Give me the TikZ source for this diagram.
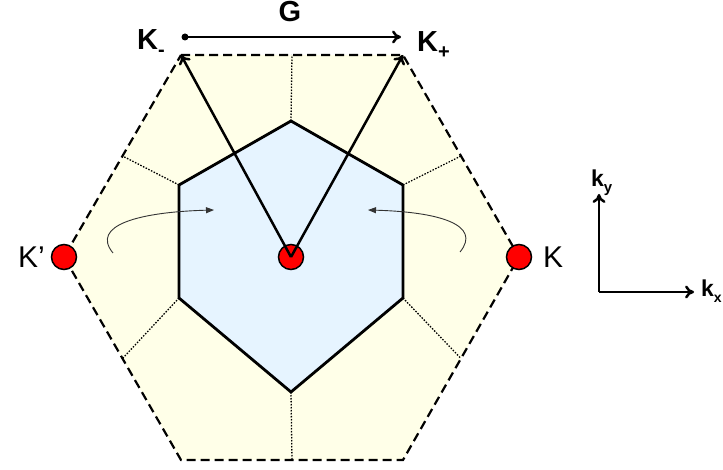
\documentclass[tikz,border=0pt]{standalone}
\usepackage{fontspec}
\setmainfont{Liberation Sans}
\usetikzlibrary{arrows.meta,calc}
\definecolor{outerfill}{HTML}{FFFFE8}
\definecolor{innerfill}{HTML}{E6F4FF}
\begin{document}
\begin{tikzpicture}[x=1pt,y=-1pt,
  lbl/.style={font=\fontsize{30}{34}\selectfont, inner sep=0pt},
  blbl/.style={font=\fontsize{29}{33}\selectfont\bfseries, inner sep=0pt},
  slbl/.style={font=\fontsize{23}{27}\selectfont\bfseries, inner sep=0pt},
  dot/.style={circle, draw=black, line width=1.5pt, fill=red, minimum size=25pt, inner sep=0pt},
  outerhex/.style={draw=black, dash pattern=on 9pt off 5pt, line width=2.2pt, fill=outerfill},
  innerhex/.style={draw=black, line width=2.8pt, fill=innerfill, line join=miter},
  sep/.style={draw=black, dash pattern=on 1.5pt off 1.5pt, line width=1.3pt},
  karrow/.style={line width=2.5pt, -{To[length=9pt,width=13pt]}},
  curvarrow/.style={line width=0.9pt, draw=black!80, -{Triangle[length=8pt,width=6pt]}},
  axis/.style={line width=2.5pt, -{To[length=9pt,width=13pt]}}]
\useasboundingbox (0,0) rectangle (723,470);
\fill[white] (0,0) rectangle (723,470);
% outer hexagon
\coordinate (OTL) at (181,55);
\coordinate (OTR) at (403,55);
\coordinate (OR) at (519,257);
\coordinate (OBR) at (403,460);
\coordinate (OBL) at (181,460);
\coordinate (OL) at (64,257);
\path[outerhex] (OTL) -- (OTR) -- (OR) -- (OBR) -- (OBL) -- (OL) -- cycle;
% inner hexagon
\coordinate (IT) at (291,121);
\coordinate (IUR) at (403,185);
\coordinate (ILR) at (403,298);
\coordinate (IB) at (291,392);
\coordinate (ILL) at (179,298);
\coordinate (IUL) at (179,185);
% separators
\path[sep] (IT) -- ($(OTL)!0.5!(OTR)$);
\path[sep] (IB) -- ($(OBL)!0.5!(OBR)$);
\path[sep] (IUR) -- ($(OTR)!0.5!(OR)$);
\path[sep] (ILR) -- ($(OR)!0.5!(OBR)$);
\path[sep] (IUL) -- ($(OTL)!0.5!(OL)$);
\path[sep] (ILL) -- ($(OL)!0.5!(OBL)$);
\path[innerhex] (IT) -- (IUR) -- (ILR) -- (IB) -- (ILL) -- (IUL) -- cycle;
% curved arrows
\coordinate (LA0) at (113,253);
\coordinate (LA1) at (214,210);
\coordinate (RA0) at (460,252);
\coordinate (RA1) at (368,210);
\draw[curvarrow] (LA0) .. controls (90,225) and (140,212) .. (LA1);
\draw[curvarrow] (RA0) .. controls (482,225) and (440,212) .. (RA1);
% points
\node[dot] (Gam) at (291,257) {};
\node[dot] (Kp) at (OL) {};
\node[dot] (K) at (OR) {};
\draw[karrow] (Gam.center) -- (OTL);
\draw[karrow] (Gam.center) -- (OTR);
% G vector
\node[circle, fill=black, inner sep=0pt, minimum size=7pt] (G0) at (185,37) {};
\coordinate (G1) at (401,37);
\draw[karrow] (G0.center) -- (G1);
\node[blbl, anchor=base] (Glbl) at (290,22) {G};
\node[blbl, anchor=base west] (Kmlbl) at (137,50) {K\raisebox{-7pt}{\fontsize{20}{20}\selectfont -}};
\node[blbl, anchor=base west] (Kplbl) at (417,52) {K\raisebox{-7pt}{\fontsize{20}{20}\selectfont +}};
\node[lbl, anchor=base west] (Kplabel) at (18,268) {K’};
\node[lbl, anchor=base west] (Klabel) at (543,268) {K};
% axes
\coordinate (O) at (599,292);
\coordinate (Ay) at (599,194);
\coordinate (Ax) at (694,292);
\draw[axis] (O) -- (Ay);
\draw[axis] (O) -- (Ax);
\node[slbl, anchor=base west] (ky) at (591,187) {k\raisebox{-6pt}{\fontsize{15}{15}\selectfont y}};
\node[slbl, anchor=base west] (kx) at (701,297) {k\raisebox{-6pt}{\fontsize{14}{14}\selectfont x}};
\end{tikzpicture}
\end{document}
